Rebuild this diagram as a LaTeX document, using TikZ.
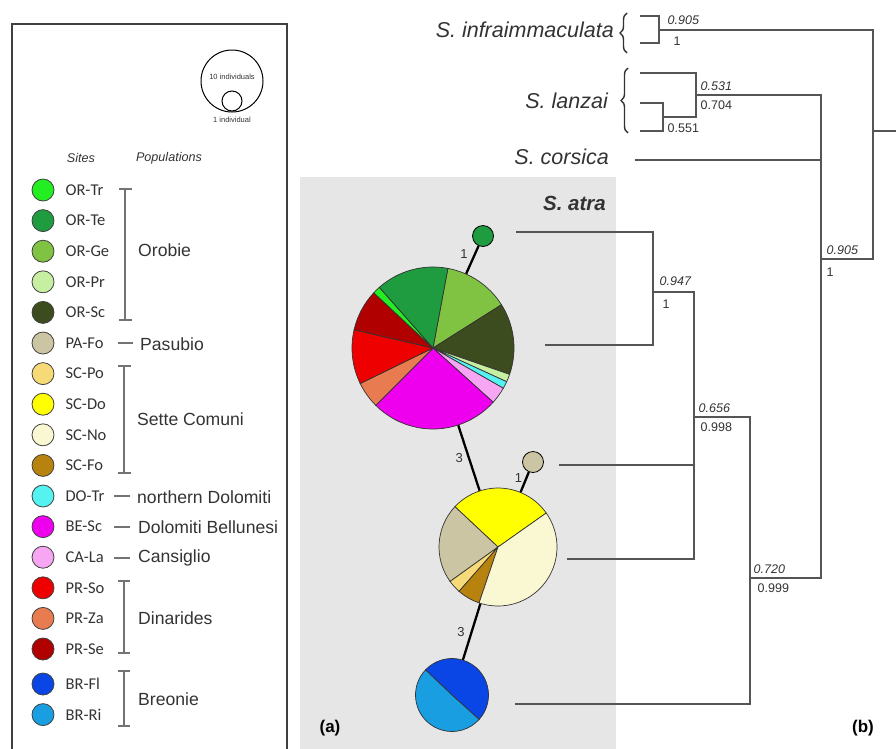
\documentclass[tikz,border=0pt]{standalone}
\usepackage{fontspec}
\setmainfont{Liberation Sans}
\newfontfamily\sitefont{Carlito}
\usepackage{tikz}
\usetikzlibrary{positioning, decorations.pathreplacing}

\definecolor{ortr}{HTML}{22EE22}
\definecolor{orte}{HTML}{1E9C3F}
\definecolor{orge}{HTML}{80C342}
\definecolor{orpr}{HTML}{C6EFA2}
\definecolor{orsc}{HTML}{3C4C1E}
\definecolor{pafo}{HTML}{CBC5A3}
\definecolor{scpo}{HTML}{F7DA78}
\definecolor{scdo}{HTML}{FFFF00}
\definecolor{scno}{HTML}{FAF8D2}
\definecolor{scfo}{HTML}{B8820E}
\definecolor{dotr}{HTML}{55F2F2}
\definecolor{besc}{HTML}{EE00EE}
\definecolor{cala}{HTML}{F6A6F2}
\definecolor{prso}{HTML}{EE0000}
\definecolor{prza}{HTML}{E87C50}
\definecolor{prse}{HTML}{B00000}
\definecolor{brfl}{HTML}{0A46E6}
\definecolor{brri}{HTML}{1A9EE2}
\definecolor{panel}{HTML}{E6E6E6}
\definecolor{treegray}{HTML}{555555}
\definecolor{txt}{HTML}{333333}

\begin{document}
\begin{tikzpicture}[x=1pt, y=-1pt, node distance=7.8pt,
  sitedot/.style={circle, draw=black!75, line width=0.8pt, minimum size=22pt, inner sep=0},
  sitelab/.style={font=\sitefont\fontsize{16.5}{18}\selectfont, text=txt, anchor=west, inner sep=0},
  poplab/.style={font=\fontsize{17.6}{20}\selectfont, text=txt, anchor=west, inner sep=0},
  brk/.style={draw=black!55, line width=1.1pt},
  hap/.style={circle, minimum size=#1, inner sep=0},
  haplink/.style={draw=black, line width=2.3pt},
  steps/.style={font=\fontsize{13}{15}\selectfont, text=txt, inner sep=0},
  slice/.style={draw=black!80, line width=0.7pt},
  tree/.style={draw=treegray, line width=1.2pt},
  pp/.style={font=\itshape\fontsize{12.5}{14}\selectfont, text=txt, inner sep=0.5pt},
  bs/.style={font=\fontsize{12.5}{14}\selectfont, text=txt, inner sep=0.5pt},
  species/.style={font=\itshape\fontsize{21.5}{24}\selectfont, text=txt, anchor=east, inner sep=0},
  panlab/.style={font=\bfseries\fontsize{17}{20}\selectfont, text=black, inner sep=0}]

\useasboundingbox (0,0) rectangle (896,748);

% (a) legende
\draw[draw=black!75, line width=1.5pt] (12,24) rectangle (287,760);

\node[circle, draw=black, line width=1pt, minimum size=62pt, inner sep=0] (ten) at (232,81) {};
\node[circle, draw=black, line width=1pt, minimum size=20pt, inner sep=0] (one) at (232,101) {};
\node[font=\fontsize{7.5}{9}\selectfont, text=txt, inner sep=0] at (232,77) {10 individuals};
\node[font=\fontsize{7.5}{9}\selectfont, text=txt, inner sep=0, below=5pt of one] (onelab) {1 individual};

\node[font=\itshape\fontsize{12.6}{14}\selectfont, text=txt] (sites) at (81,158) {Sites};
\node[font=\itshape\fontsize{12.6}{14}\selectfont, text=txt] (pops) at (169,158) {Populations};

\node[sitedot, fill=ortr] (ortr) at (43,190) {};
\node[sitedot, fill=orte, below=of ortr] (orte) {};
\node[sitedot, fill=orge, below=of orte] (orge) {};
\node[sitedot, fill=orpr, below=of orge] (orpr) {};
\node[sitedot, fill=orsc, below=of orpr] (orsc) {};
\node[sitedot, fill=pafo, below=of orsc] (pafo) {};
\node[sitedot, fill=scpo, below=of pafo] (scpo) {};
\node[sitedot, fill=scdo, below=of scpo] (scdo) {};
\node[sitedot, fill=scno, below=of scdo] (scno) {};
\node[sitedot, fill=scfo, below=of scno] (scfo) {};
\node[sitedot, fill=dotr, below=of scfo] (dotr) {};
\node[sitedot, fill=besc, below=of dotr] (besc) {};
\node[sitedot, fill=cala, below=of besc] (cala) {};
\node[sitedot, fill=prso, below=of cala] (prso) {};
\node[sitedot, fill=prza, below=of prso] (prza) {};
\node[sitedot, fill=prse, below=of prza] (prse) {};
\node[sitedot, fill=brfl, below=12.2pt of prse] (brfl) {};
\node[sitedot, fill=brri, below=of brfl] (brri) {};

\node[sitelab, right=11pt of ortr] (ortr-l) {OR-Tr};
\node[sitelab, right=11pt of orte] (orte-l) {OR-Te};
\node[sitelab, right=11pt of orge] (orge-l) {OR-Ge};
\node[sitelab, right=11pt of orpr] (orpr-l) {OR-Pr};
\node[sitelab, right=11pt of orsc] (orsc-l) {OR-Sc};
\node[sitelab, right=11pt of pafo] (pafo-l) {PA-Fo};
\node[sitelab, right=11pt of scpo] (scpo-l) {SC-Po};
\node[sitelab, right=11pt of scdo] (scdo-l) {SC-Do};
\node[sitelab, right=11pt of scno] (scno-l) {SC-No};
\node[sitelab, right=11pt of scfo] (scfo-l) {SC-Fo};
\node[sitelab, right=11pt of dotr] (dotr-l) {DO-Tr};
\node[sitelab, right=11pt of besc] (besc-l) {BE-Sc};
\node[sitelab, right=11pt of cala] (cala-l) {CA-La};
\node[sitelab, right=11pt of prso] (prso-l) {PR-So};
\node[sitelab, right=11pt of prza] (prza-l) {PR-Za};
\node[sitelab, right=11pt of prse] (prse-l) {PR-Se};
\node[sitelab, right=11pt of brfl] (brfl-l) {BR-Fl};
\node[sitelab, right=11pt of brri] (brri-l) {BR-Ri};

% les crochets
\draw[brk] (119,189) -- (132,189) (125,189) -- (125,320) (119,320) -- (132,320);
\draw[brk] (118,343) -- (133,343);
\draw[brk] (118,366) -- (131,366) (124,366) -- (124,473) (118,473) -- (131,473);
\draw[brk] (114,496) -- (130,496);
\draw[brk] (114,527) -- (130,527);
\draw[brk] (114,558) -- (130,558);
\draw[brk] (118,581) -- (130,581) (124,581) -- (124,653) (118,653) -- (130,653);
\draw[brk] (118,671) -- (130,671) (124,671) -- (124,726) (118,726) -- (130,726);

\node[poplab] (orobie) at (138,250) {Orobie};
\node[poplab] (pasubio) at (140,344) {Pasubio};
\node[poplab] (sette) at (137,419) {Sette Comuni};
\node[poplab] (ndolo) at (137,497) {northern Dolomiti};
\node[poplab] (bell) at (138,527) {Dolomiti Bellunesi};
\node[poplab] (cans) at (138,558) {Cansiglio};
\node[poplab] (dina) at (138,618) {Dinarides};
\node[poplab] (breo) at (138,699) {Breonie};

% reseau d'haplotypes
\fill[panel] (300,177) rectangle (616,760);
\node[font=\bfseries\itshape\fontsize{20.5}{23}\selectfont, text=txt, anchor=east, inner sep=0] (atra) at (606,203) {S. atra};

\node[hap=21pt, draw=black, line width=0.8pt, fill=orte] (hap1) at (483,236) {};
\node[hap=162pt] (hap2) at (433,348) {};
\node[hap=118pt] (hap3) at (498,547) {};
\node[hap=21pt, draw=black, line width=0.8pt, fill=pafo] (hap4) at (533,462) {};
\node[hap=73pt] (hap5) at (452,695) {};

\draw[haplink] (hap1) -- node[steps, pos=0.3, left=6pt] {1} (hap2);
\draw[haplink] (hap2) -- node[steps, midway, left=5pt] {3} (hap3);
\draw[haplink] (hap4) -- node[steps, pos=0.3, left=3pt] {1} (hap3);
\draw[haplink] (hap3) -- node[steps, midway, left=6pt] {3} (hap5);

\filldraw[slice, fill=orge] (hap2.center) -- ++(79.4:81pt) arc[start angle=79.4, end angle=32.3, radius=81pt] -- cycle;
\filldraw[slice, fill=orsc] (hap2.center) -- ++(32.3:81pt) arc[start angle=32.3, end angle=-19, radius=81pt] -- cycle;
\filldraw[slice, fill=orpr] (hap2.center) -- ++(-19:81pt) arc[start angle=-19, end angle=-24.6, radius=81pt] -- cycle;
\filldraw[slice, fill=dotr] (hap2.center) -- ++(-24.6:81pt) arc[start angle=-24.6, end angle=-29.8, radius=81pt] -- cycle;
\filldraw[slice, fill=cala] (hap2.center) -- ++(-29.8:81pt) arc[start angle=-29.8, end angle=-42, radius=81pt] -- cycle;
\filldraw[slice, fill=besc] (hap2.center) -- ++(-42:81pt) arc[start angle=-42, end angle=-135, radius=81pt] -- cycle;
\filldraw[slice, fill=prza] (hap2.center) -- ++(-135:81pt) arc[start angle=-135, end angle=-154, radius=81pt] -- cycle;
\filldraw[slice, fill=prso] (hap2.center) -- ++(-154:81pt) arc[start angle=-154, end angle=-193, radius=81pt] -- cycle;
\filldraw[slice, fill=prse] (hap2.center) -- ++(-193:81pt) arc[start angle=-193, end angle=-223, radius=81pt] -- cycle;
\filldraw[slice, fill=ortr] (hap2.center) -- ++(-223:81pt) arc[start angle=-223, end angle=-228.5, radius=81pt] -- cycle;
\filldraw[slice, fill=orte] (hap2.center) -- ++(-228.5:81pt) arc[start angle=-228.5, end angle=-280.6, radius=81pt] -- cycle;

\filldraw[slice, fill=scdo] (hap3.center) -- ++(35.2:59pt) arc[start angle=35.2, end angle=136.9, radius=59pt] -- cycle;
\filldraw[slice, fill=pafo] (hap3.center) -- ++(136.9:59pt) arc[start angle=136.9, end angle=215.7, radius=59pt] -- cycle;
\filldraw[slice, fill=scpo] (hap3.center) -- ++(215.7:59pt) arc[start angle=215.7, end angle=228.7, radius=59pt] -- cycle;
\filldraw[slice, fill=scfo] (hap3.center) -- ++(228.7:59pt) arc[start angle=228.7, end angle=251.3, radius=59pt] -- cycle;
\filldraw[slice, fill=scno] (hap3.center) -- ++(251.3:59pt) arc[start angle=251.3, end angle=395.2, radius=59pt] -- cycle;

\filldraw[slice, fill=brfl] (hap5.center) -- ++(-42:36.5pt) arc[start angle=-42, end angle=136.5, radius=36.5pt] -- cycle;
\filldraw[slice, fill=brri] (hap5.center) -- ++(136.5:36.5pt) arc[start angle=136.5, end angle=318, radius=36.5pt] -- cycle;

\node[panlab] (pa) at (330,728) {(a)};

% (b) arbre
\node[species] (infra) at (614,30) {S. infraimmaculata};
\node[species] (lanzai) at (608,101) {S. lanzai};
\node[species] (cors) at (609,157) {S. corsica};
\draw[draw=txt, line width=1.4pt, decorate, decoration={brace, amplitude=7pt}] (627,53) -- (627,13);
\draw[draw=txt, line width=1.4pt, decorate, decoration={brace, amplitude=7pt}] (628,133) -- (628,68);

\coordinate (i1) at (640,16);
\coordinate (i2) at (640,43);
\coordinate (ni) at (659,30);
\coordinate (l1) at (640,73);
\coordinate (l2) at (640,103);
\coordinate (l3) at (640,131);
\coordinate (nl2) at (663,117);
\coordinate (nl1) at (696,95);
\coordinate (c1) at (635,160);
\coordinate (a1) at (516,232);
\coordinate (a2) at (545,345);
\coordinate (a3) at (559,465);
\coordinate (a4) at (567,559);
\coordinate (a5) at (515,704);
\coordinate (na1) at (653,292);
\coordinate (na2) at (694,417);
\coordinate (na3) at (750,578);
\coordinate (nsp) at (821,259);
\coordinate (nroot) at (873,131);
\coordinate (rootend) at (900,131);

\draw[tree] (i1) -| (ni) (i2) -| (ni);
\draw[tree] (l2) -| (nl2) (l3) -| (nl2);
\draw[tree] (l1) -| (nl1) (nl2) -| (nl1);
\draw[tree] (a1) -| (na1) (a2) -| (na1);
\draw[tree] (na1) -| (na2) (a3) -| (na2) (a4) -| (na2);
\draw[tree] (na2) -| (na3) (a5) -| (na3);
\draw[tree] (nl1) -| (nsp) (c1) -| (nsp) (na3) -| (nsp);
\draw[tree] (ni) -| (nroot) (nsp) -| (nroot) (nroot) -- (rootend);

\node[pp, above right=5pt and 8pt of ni] {0.905};
\node[bs, below right=6pt and 14pt of ni] {1};
\node[pp, above right=4pt and 4pt of nl1] {0.531};
\node[bs, below right=5pt and 4pt of nl1] {0.704};
\node[bs, below right=6pt and 4pt of nl2] {0.551};
\node[pp, above right=4pt and 5pt of nsp] {0.905};
\node[bs, below right=8pt and 5pt of nsp] {1};
\node[pp, above right=6pt and 6pt of na1] {0.947};
\node[bs, below right=7pt and 9pt of na1] {1};
\node[pp, above right=4pt and 4pt of na2] {0.656};
\node[bs, below right=5pt and 6pt of na2] {0.998};
\node[pp, above right=4pt and 3pt of na3] {0.720};
\node[bs, below right=5pt and 7pt of na3] {0.999};

\node[panlab] (pb) at (863,728) {(b)};

\end{tikzpicture}
\end{document}
